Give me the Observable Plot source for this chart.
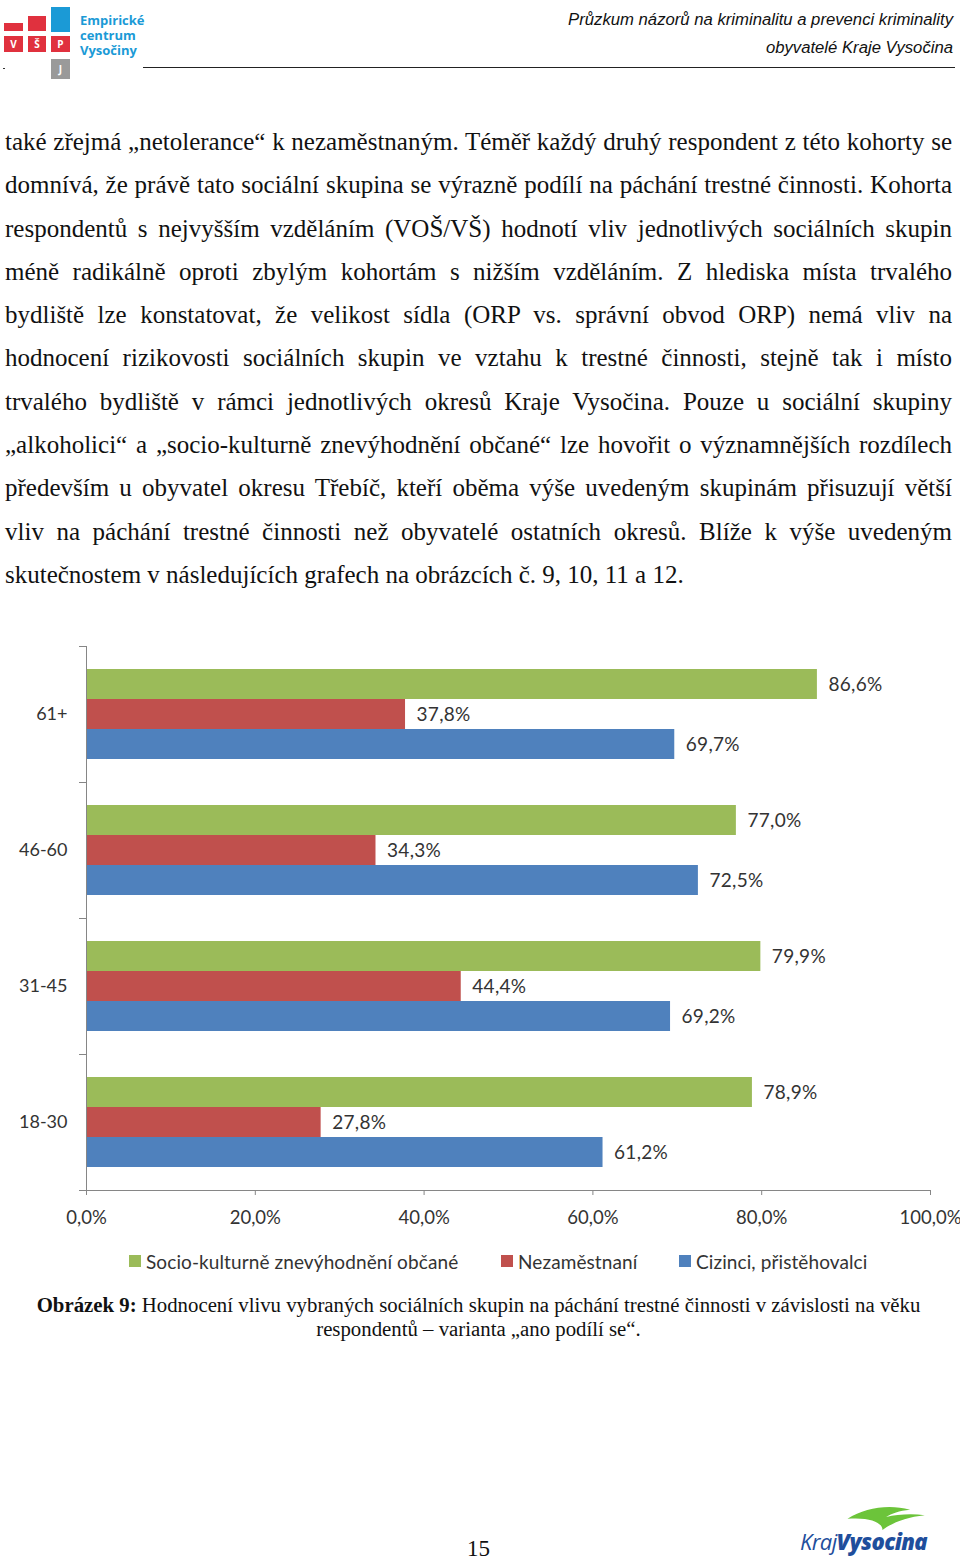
<!DOCTYPE html>
<html lang="cs">
<head>
<meta charset="utf-8">
<script src="https://cdn.jsdelivr.net/npm/d3@7"></script>
<script src="https://cdn.jsdelivr.net/npm/@observablehq/plot@0.6"></script>
<style>
  html, body { margin: 0; padding: 0; background: #fff; }
  body { width: 960px; height: 1562px; position: relative; overflow: hidden; }
  .abs { position: absolute; }
  .hdr { font-family: "Liberation Sans", Arial, sans-serif; font-style: italic; font-size: 16.7px; color: #111; right: 7px; white-space: nowrap; }
  .body-text { left: 5px; width: 947px; top: 120px; font-family: "Liberation Serif", "Times New Roman", serif; font-size: 25px; line-height: 43.3px; color: #111; }
  .body-text .ln { text-align: justify; text-align-last: justify; white-space: nowrap; }
  .body-text .ln.last { text-align: left; text-align-last: left; }
  .caption { left: 0; width: 957px; top: 1293px; text-align: center; font-family: "Liberation Serif", "Times New Roman", serif; font-size: 20.8px; line-height: 24px; color: #111; white-space: nowrap; }
  .legend { top: 1250px; left: 0; font-family: Lato, sans-serif; font-size: 19px; letter-spacing: 0.1px; color: #333; }
  .legend .item { position: absolute; white-space: nowrap; display: flex; align-items: center; height: 22px; }
  .legend .sw { width: 12px; height: 12px; margin-right: 5px; }
  .logo-txt { font-family: "Open Sans", sans-serif; font-weight: 700; font-size: 13px; color: #1b9ad6; left: 80px; line-height: 15px; }
</style>
</head>
<body>
<script>
// ---- data ----
const ages = ["61+", "46-60", "31-45", "18-30"];
const series = ["Socio-kulturně znevýhodnění občané", "Nezaměstnaní", "Cizinci, přistěhovalci"];
const socioKulturni = [86.6, 77.0, 79.9, 78.9];
const nezamestnani = [37.8, 34.3, 44.4, 27.8];
const cizinci = [69.7, 72.5, 69.2, 61.2];
const xTicks = [0, 20, 40, 60, 80, 100];
const seriesColors = ["#9BBB59", "#C0504D", "#4F81BD"];

const bodyLines = [
  "také zřejmá „netolerance“ k nezaměstnaným. Téměř každý druhý respondent z této kohorty se",
  "domnívá, že právě tato sociální skupina se výrazně podílí na páchání trestné činnosti. Kohorta",
  "respondentů s nejvyšším vzděláním (VOŠ/VŠ) hodnotí vliv jednotlivých sociálních skupin",
  "méně radikálně oproti zbylým kohortám s nižším vzděláním. Z hlediska místa trvalého",
  "bydliště lze konstatovat, že velikost sídla (ORP vs. správní obvod ORP) nemá vliv na",
  "hodnocení rizikovosti sociálních skupin ve vztahu k trestné činnosti, stejně tak i místo",
  "trvalého bydliště v rámci jednotlivých okresů Kraje Vysočina. Pouze u sociální skupiny",
  "„alkoholici“ a „socio-kulturně znevýhodnění občané“ lze hovořit o významnějších rozdílech",
  "především u obyvatel okresu Třebíč, kteří oběma výše uvedeným skupinám přisuzují větší",
  "vliv na páchání trestné činnosti než obyvatelé ostatních okresů. Blíže k výše uvedeným",
  "skutečnostem v následujících grafech na obrázcích č. 9, 10, 11 a 12."
];
const captionBold = "Obrázek 9:";
const captionLine1 = " Hodnocení vlivu vybraných sociálních skupin na páchání trestné činnosti v závislosti na věku";
const captionLine2 = "respondentů – varianta „ano podílí se“.";
const headerLine1 = "Průzkum názorů na kriminalitu a prevenci kriminality";
const headerLine2 = "obyvatelé Kraje Vysočina";
const pageNumber = "15";
</script>

<!-- header logo -->
<div class="abs" style="left:4px;top:23px;width:19px;height:8px;background:#e0313e"></div>
<div class="abs" style="left:28px;top:16px;width:18px;height:15px;background:#e0313e"></div>
<div class="abs" style="left:51px;top:7px;width:19px;height:25px;background:#1b9ad6"></div>
<div class="abs" style="left:4px;top:36px;width:19px;height:16px;background:#e0313e;color:#fff;font:bold 10px 'Open Sans',sans-serif;text-align:center;line-height:16px">V</div>
<div class="abs" style="left:28px;top:36px;width:18px;height:16px;background:#e0313e;color:#fff;font:bold 10px 'Open Sans',sans-serif;text-align:center;line-height:16px">Š</div>
<div class="abs" style="left:51px;top:36px;width:19px;height:16px;background:#e0313e;color:#fff;font:bold 10px 'Open Sans',sans-serif;text-align:center;line-height:16px">P</div>
<div class="abs" style="left:51px;top:59px;width:19px;height:20px;background:#9a9a9a;color:#fff;font:bold 10px 'Open Sans',sans-serif;text-align:center;line-height:20px">J</div>
<div class="abs logo-txt" style="top:13px">Empirické<br>centrum<br>Vysočiny</div>
<div class="abs" style="left:3px;top:68px;width:2px;height:1px;background:#333"></div>
<div class="abs" style="left:143px;top:67px;width:812px;height:1px;background:#222"></div>

<div id="hdr1" class="abs hdr" style="top:10px"></div>
<div id="hdr2" class="abs hdr" style="top:38px"></div>

<div id="body" class="abs body-text"></div>

<div id="chart" class="abs" style="left:0;top:630px"></div>
<div id="legend" class="abs legend"></div>

<div id="caption" class="abs caption"></div>

<div id="page" class="abs" style="left:0;width:957px;top:1536px;text-align:center;font-family:'Liberation Serif',serif;font-size:23px;color:#111"></div>

<!-- footer logo -->
<svg class="abs" style="left:842px;top:1502px" width="92" height="30" viewBox="0 0 100 32">
  <path d="M6 18 C 25 6, 50 2, 74 8 C 62 9, 54 12, 48 16 C 60 13, 76 12, 90 14 C 70 16, 55 22, 44 30 C 44 22, 30 16, 6 18 Z" fill="#6cc43a"/>
</svg>
<div class="abs" style="left:800px;top:1526px;font-family:'Open Sans',sans-serif;font-size:22px;color:#1f4e9c;white-space:nowrap;letter-spacing:-0.6px;font-style:italic">
  <span>Kraj</span><span style="font-weight:800">Vysocina</span>
</div>

<script>
const fmt = v => v.toFixed(1).replace(".", ",") + "%";

document.getElementById("hdr1").textContent = headerLine1;
document.getElementById("hdr2").textContent = headerLine2;
document.getElementById("page").textContent = pageNumber;

const bodyEl = document.getElementById("body");
bodyLines.forEach((t, i) => {
  const d = document.createElement("div");
  d.className = "ln" + (i === bodyLines.length - 1 ? " last" : "");
  d.textContent = t;
  bodyEl.appendChild(d);
});

const cap = document.getElementById("caption");
const b = document.createElement("b"); b.textContent = captionBold; cap.appendChild(b);
cap.appendChild(document.createTextNode(captionLine1));
cap.appendChild(document.createElement("br"));
cap.appendChild(document.createTextNode(captionLine2));

// rows for the chart
const values = [socioKulturni, nezamestnani, cizinci];
const rows = [];
ages.forEach((age, i) => series.forEach((s, j) => rows.push({age, series: s, value: values[j][i]})));

const fig = Plot.plot({
  width: 960,
  height: 610,
  marginTop: 15,
  marginBottom: 50,
  marginLeft: 86,
  marginRight: 30,
  style: {fontFamily: "Lato, sans-serif", fontSize: "18px", color: "#333", background: "transparent", overflow: "visible"},
  x: {domain: [0, 100]},
  y: {domain: series, paddingInner: 0, paddingOuter: 0.74, axis: null},
  fy: {domain: ages, padding: 0},
  color: {domain: series, range: seriesColors},
  marks: [
    Plot.barX(rows, {x: "value", y: "series", fy: "age", fill: "series"}),
    Plot.text(rows, {x: "value", y: "series", fy: "age", text: d => fmt(d.value), textAnchor: "start", dx: 11, fontSize: 19, fill: "#333", className: "vlab"}),
    Plot.ruleX([0], {stroke: "#868686"}),
    Plot.axisFy({anchor: "left", tickSize: 0, tickPadding: 19, fontSize: 18, fill: "#333", label: null}),
    Plot.axisX(xTicks, {anchor: "bottom", tickSize: 5, tickPadding: 15, tickFormat: fmt, fontSize: 18.5, stroke: "#868686", fill: "#333", label: null})
  ]
});
document.getElementById("chart").appendChild(fig);
d3.select(fig).selectAll(".vlab text").style("letter-spacing", "0.3px");

// category boundary ticks and baseline, drawn with the plot's own scales
const fyS = fig.scale("fy"), xS = fig.scale("x");
const g = d3.select(fig).append("g").attr("stroke", "#868686").attr("stroke-width", 1);
ages.forEach(a => {
  const yy = Math.round(fyS.apply(a)) + 0.5;
  g.append("line").attr("x1", xS.apply(0) - 7).attr("x2", xS.apply(0)).attr("y1", yy).attr("y2", yy);
});
const yb = Math.round(fyS.apply(ages[ages.length - 1]) + fyS.bandwidth) + 0.5;
g.append("line").attr("x1", xS.apply(0) - 7).attr("x2", xS.apply(100)).attr("y1", yb).attr("y2", yb);

// legend
const legendLeft = [129, 501, 679];
const leg = document.getElementById("legend");
series.forEach((s, i) => {
  const it = document.createElement("div");
  it.className = "item";
  it.style.left = legendLeft[i] + "px";
  const sw = document.createElement("div"); sw.className = "sw"; sw.style.background = seriesColors[i];
  const tx = document.createElement("span"); tx.textContent = s;
  it.appendChild(sw); it.appendChild(tx);
  leg.appendChild(it);
});
</script>
</body>
</html>
